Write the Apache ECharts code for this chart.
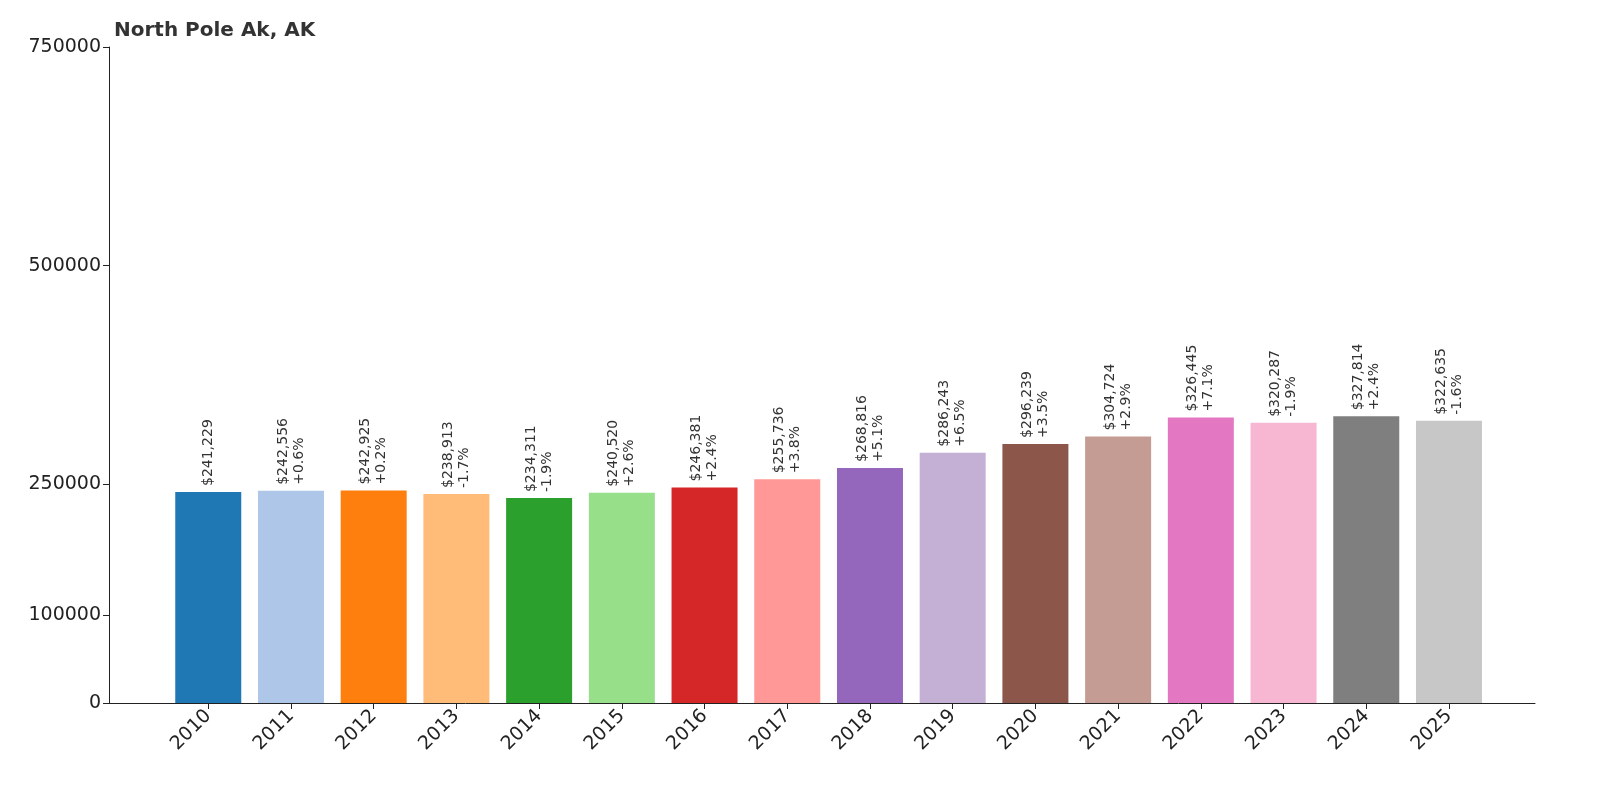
<!DOCTYPE html>
<html><head><meta charset="utf-8">
<script src="https://cdn.jsdelivr.net/npm/echarts@6/dist/echarts.min.js"></script>
<style>html,body{margin:0;background:#fff}#c{width:1600px;height:800px}</style>
</head><body><div id="c"></div>
<script>
const years = [2010,2011,2012,2013,2014,2015,2016,2017,2018,2019,2020,2021,2022,2023,2024,2025];
const values = [241229,242556,242925,238913,234311,240520,246381,255736,268816,286243,296239,304724,326445,320287,327814,322635];
const changes = [null,'+0.6%','+0.2%','-1.7%','-1.9%','+2.6%','+2.4%','+3.8%','+5.1%','+6.5%','+3.5%','+2.9%','+7.1%','-1.9%','+2.4%','-1.6%'];
const yTicks = [0,100000,250000,500000,750000];
const colors = ['#1f77b4','#aec7e8','#ff7f0e','#ffbb78','#2ca02c','#98df8a','#d62728','#ff9896','#9467bd','#c5b0d5','#8c564b','#c49c94','#e377c2','#f7b6d2','#7f7f7f','#c7c7c7'];

const chart = echarts.init(document.getElementById('c'));
chart.setOption({
  animation: false,
  textStyle: {fontFamily: 'DejaVu Sans'},
  title: {text: 'North Pole Ak, AK', left: 109, top: 16,
    textStyle: {fontSize: 20, fontWeight: 'bold', color: '#333'}},
  grid: {left: 109, right: 65, top: 47, bottom: 97},
  xAxis: {
    type: 'value', min: 2008.8, max: 2026.04,
    splitLine: {show: false},
    axisLine: {lineStyle: {color: '#222'}},
    axisTick: {show: true, customValues: years, length: 6, lineStyle: {color: '#222'}},
    axisLabel: {customValues: years, rotate: 45, fontSize: 19, color: '#222', margin: 10,
      formatter: v => String(Math.round(v))}
  },
  yAxis: {
    type: 'value', min: 0, max: 750000,
    splitLine: {show: false},
    axisLine: {show: true, lineStyle: {color: '#222'}},
    axisTick: {show: true, customValues: yTicks, length: 6, lineStyle: {color: '#222'}},
    axisLabel: {customValues: yTicks, fontSize: 19, color: '#222', formatter: v => String(v)}
  },
  series: [{
    type: 'bar',
    barWidth: 66,
    data: years.map((y, i) => ({value: [y, values[i]], itemStyle: {color: colors[i]}})),
    label: {
      show: true, position: 'top', rotate: 90, align: 'left', verticalAlign: 'middle',
      distance: 6, fontSize: 14, color: '#333', lineHeight: 16,
      formatter: p => {
        const i = p.dataIndex;
        const s = '$' + values[i].toLocaleString('en-US');
        return changes[i] ? s + '\n' + changes[i] : s;
      }
    }
  }]
});
</script></body></html>
